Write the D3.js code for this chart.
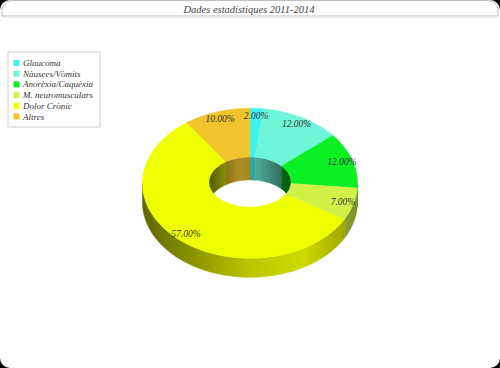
<!DOCTYPE html>
<html>
<head>
<meta charset="utf-8">
<script src="https://cdn.jsdelivr.net/npm/d3@7"></script>
<style>
  html, body { margin: 0; padding: 0; background: #000; }
  svg { display: block; }
</style>
</head>
<body>
<svg id="chart" width="500" height="368"></svg>
<script>
// Chart data
const title = "Dades estadístiques 2011-2014";
const categories = ["Glaucoma", "Nàusees/Vòmits", "Anorèxia/Caquèxia", "M. neuromusculars", "Dolor Crònic", "Altres"];
const values = [2, 12, 12, 7, 57, 10];
const colors = ["#3ef2f0", "#6ff5d8", "#0af023", "#d0f04a", "#eeff00", "#efc42c"];

const W = 500, H = 368;
const svg = d3.select("#chart");
const serif = "'Liberation Serif', 'DejaVu Serif', serif";

// Frame: white card with rounded corners
svg.append("rect").attr("width", W).attr("height", H).attr("fill", "#000");
svg.append("rect").attr("width", W).attr("height", H).attr("rx", 10).attr("ry", 10).attr("fill", "#fff");

// Title bar
const bar = d3.path();
bar.moveTo(2, 16);
bar.lineTo(2, 11);
bar.quadraticCurveTo(2, 0.5, 13, 0.5);
bar.lineTo(487, 0.5);
bar.quadraticCurveTo(498, 0.5, 498, 11);
bar.lineTo(498, 16);
bar.closePath();
svg.append("path").attr("d", bar.toString())
  .attr("fill", "#fff").attr("stroke", "#bdbdbd").attr("stroke-width", 1);
svg.append("line").attr("x1", 3).attr("x2", 497).attr("y1", 17).attr("y2", 17)
  .attr("stroke", "#e6e6e6").attr("stroke-width", 1.5);
svg.append("text").attr("x", 249).attr("y", 9)
  .attr("text-anchor", "middle").attr("dominant-baseline", "central")
  .attr("font-family", serif).attr("font-style", "italic").attr("font-size", 10.5)
  .attr("fill", "#444").text(title);

// Pie geometry (ellipse projection of a ring)
const cx = 250, cy = 183.3;
const Rx = 107.5, Ry = 75;
const rx = 41, ry = 25, cyi = 182;
const depthOuter = 19, depthInner = 23;

const pie = d3.pie().sort(null).value(d => d).startAngle(0).endAngle(2 * Math.PI);
const arcs = pie(values);
const color = d3.scaleOrdinal().domain(categories).range(colors);

const ell = (t, ax, ay, y0) => [cx + ax * Math.sin(t), y0 - ay * Math.cos(t)];
function arcPts(a0, a1, ax, ay, y0) {
  const n = Math.max(2, Math.ceil(Math.abs(a1 - a0) / (Math.PI / 180)));
  return d3.range(n + 1).map(i => ell(a0 + (a1 - a0) * i / n, ax, ay, y0));
}
const line = d3.line();

const defs = svg.append("defs");
function shadeGrad(id, base, x0, x1, stops) {
  const g = defs.append("linearGradient").attr("id", id)
    .attr("gradientUnits", "userSpaceOnUse")
    .attr("x1", x0).attr("x2", x1).attr("y1", 0).attr("y2", 0);
  stops.forEach(([o, k]) => {
    const c = d3.rgb(base);
    g.append("stop").attr("offset", o)
      .attr("stop-color", d3.rgb(c.r * k, c.g * k, c.b * k).formatHex());
  });
}
arcs.forEach((a, i) => {
  shadeGrad("side" + i, colors[i], cx - Rx, cx + Rx, [[0, 0.4], [0.5, 0.78], [0.75, 0.86], [1, 0.6]]);
  shadeGrad("wall" + i, colors[i], cx - rx, cx + rx, [[0, 0.35], [0.35, 0.72], [0.6, 0.68], [1, 0.35]]);
});

const g = svg.append("g");

// Outer front side walls (parametric angles 90°..270°)
arcs.forEach((a, i) => {
  const s = Math.max(a.startAngle, Math.PI / 2), e = Math.min(a.endAngle, 3 * Math.PI / 2);
  if (e <= s) return;
  const pts = arcPts(s, e, Rx, Ry, cy).concat(arcPts(e, s, Rx, Ry, cy + depthOuter));
  g.append("path").attr("d", line(pts) + "Z").attr("fill", `url(#side${i})`)
    .attr("stroke", `url(#side${i})`).attr("stroke-width", 0.5);
});

// Inner back walls visible through the hole (angles -90°..90°)
arcs.forEach((a, i) => {
  [[0, Math.PI / 2], [3 * Math.PI / 2, 2 * Math.PI]].forEach(([lo, hi]) => {
    const s = Math.max(a.startAngle, lo), e = Math.min(a.endAngle, hi);
    if (e <= s) return;
    const pts = arcPts(s, e, rx, ry, cyi).concat(arcPts(e, s, rx, ry, cyi + depthInner));
    g.append("path").attr("d", line(pts) + "Z").attr("fill", `url(#wall${i})`)
      .attr("stroke", `url(#wall${i})`).attr("stroke-width", 0.5);
  });
});

// Top faces
arcs.forEach((a, i) => {
  const pts = arcPts(a.startAngle, a.endAngle, Rx, Ry, cy)
    .concat(arcPts(a.endAngle, a.startAngle, rx, ry, cyi));
  g.append("path").attr("d", line(pts) + "Z").attr("fill", colors[i])
    .attr("stroke", colors[i]).attr("stroke-width", 0.5);
});

// Percentage labels
const fmt = d3.format(".2f");
const total = d3.sum(values);
arcs.forEach((a, i) => {
  const m = (a.startAngle + a.endAngle) / 2;
  const [x, y] = ell(m, Rx * 0.9, Ry * 0.9, cy);
  g.append("text").attr("x", x).attr("y", y)
    .attr("text-anchor", "middle").attr("dominant-baseline", "central")
    .attr("font-family", serif).attr("font-style", "italic").attr("font-size", 9.5)
    .attr("fill", "#333").text(fmt(a.data / total * 100) + "%");
});

// Legend
const legend = svg.append("g").attr("transform", "translate(8,52)");
legend.append("rect").attr("x", 0).attr("y", 0).attr("width", 92).attr("height", 75)
  .attr("fill", "#fff").attr("stroke", "#cfcfcf").attr("stroke-width", 1);
const ly = d3.scalePoint().domain(categories).range([11, 64.5]);
categories.forEach((c, i) => {
  const row = legend.append("g").attr("transform", `translate(0,${ly(c)})`);
  row.append("rect").attr("x", 5.5).attr("y", -3).attr("width", 6).attr("height", 6)
    .attr("fill", color(c));
  row.append("text").attr("x", 15).attr("y", 0).attr("dominant-baseline", "central")
    .attr("font-family", serif).attr("font-style", "italic").attr("font-size", 9)
    .attr("fill", "#333").text(c);
});
</script>
</body>
</html>
